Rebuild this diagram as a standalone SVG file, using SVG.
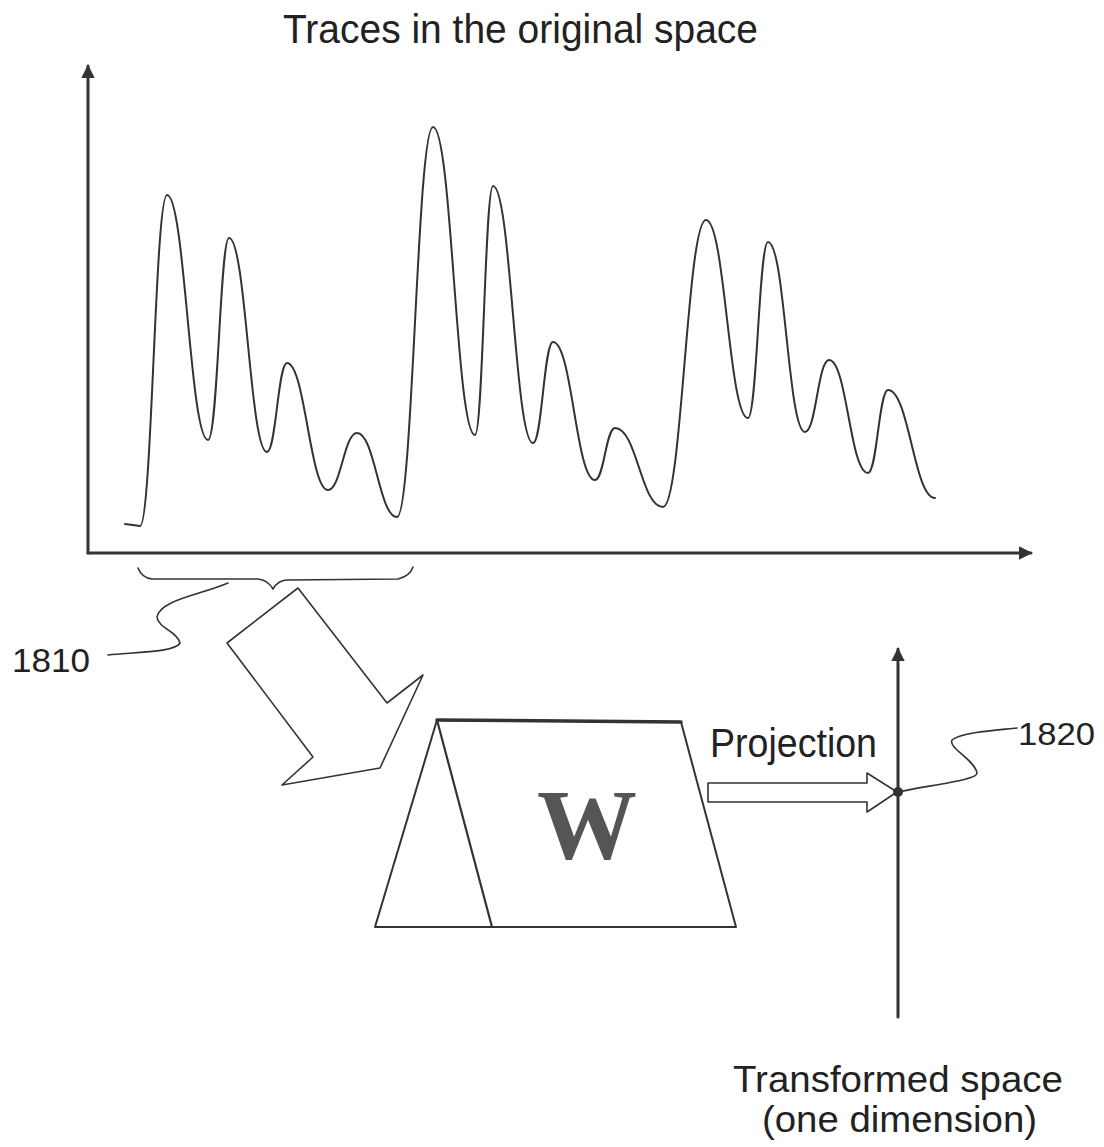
<svg xmlns="http://www.w3.org/2000/svg" width="1104" height="1147" viewBox="0 0 1104 1147">
<style>
.lbl{font-family:"Liberation Sans",Arial,sans-serif;fill:#222}
.ln{fill:none;stroke:#333;stroke-linejoin:round;stroke-linecap:round}
.axis{stroke-width:3}
.thin{stroke-width:1.6}
.curve{stroke-width:2}
</style>
<defs>
<marker id="ah" viewBox="0 0 10 10" refX="9" refY="5" markerWidth="4.5" markerHeight="4.5" orient="auto" markerUnits="strokeWidth">
<path d="M0,0 L10,5 L0,10 Z" fill="#333"/>
</marker>
</defs>
<rect width="1104" height="1147" fill="#fff"/>
<text class="lbl" x="283" y="43" font-size="40" textLength="475" lengthAdjust="spacingAndGlyphs">Traces in the original space</text>
<g id="plot">
<path class="ln axis" d="M88,553 L88,66" marker-end="url(#ah)"/>
<path class="ln axis" d="M88,553 L1031,553" marker-end="url(#ah)"/>
<path class="ln curve" d="M125,524 L140,526 C152,526 155,195 167,195 C185,195 190,440 208,440 C218,440 220,238 229,238 C246,238 250,452 267,452 C276,452 278,363 287,363 C305,363 310,490 328,490 C341,490 344,433 357,433 C375,433 379,517 397,517 C413,517 417,127 433,127 C452,127 456,435 475,435 C483,435 485,186 493,186 C511,186 515,443 533,443 C542,443 544,342 553,342 C572,342 576,480 595,480 C604,480 606,428 615,428 C637,428 641,507 663,507 C682,507 687,220 706,220 C725,220 729,418 748,418 C757,418 759,242 768,242 C785,242 788,432 805,432 C816,432 818,360 829,360 C847,360 850,473 868,473 C877,473 879,390 888,390 C909,390 914,498 935,498"/>
</g>
<g id="brace">
<path class="ln thin" d="M138,568 Q142,578 152,579 L258,579 Q268,580 273,589 Q278,580 288,580 L398,579 Q410,576 413,567"/>
</g>
<g id="label-1810">
<text class="lbl" x="12" y="672" font-size="34" textLength="78" lengthAdjust="spacingAndGlyphs">1810</text>
</g>
<g id="block-arrow">
<polygon class="ln thin" points="227,643 298,588 387,703 423,675 380,768 282,785 313,757"/>
</g>
<g id="W-node">
<polygon class="ln" stroke-width="2" points="437,720 681,722 736,927 375,927"/>
<path class="ln" stroke-width="3.5" d="M437,720 L681,722"/>
<path class="ln" stroke-width="2.2" d="M437,720 L492,927"/>
<text x="587" y="858" font-family="'Liberation Serif','Times New Roman',serif" font-weight="bold" font-size="100" text-anchor="middle" fill="#555">W</text>
</g>
<g id="projection">
<text class="lbl" x="710" y="757" font-size="40" textLength="167" lengthAdjust="spacingAndGlyphs">Projection</text>
<polygon class="ln thin" points="708,783 867,783 867,773 897,792 867,812 867,802 708,802"/>
</g>
<g id="transformed-axis">
<path class="ln axis" d="M898,1017 L898,649" marker-end="url(#ah)"/>
<circle cx="898" cy="792" r="5" fill="#333"/>
<text class="lbl" x="733" y="1092" font-size="36" textLength="330" lengthAdjust="spacingAndGlyphs">Transformed space</text>
<text class="lbl" x="762" y="1132" font-size="36" textLength="275" lengthAdjust="spacingAndGlyphs">(one dimension)</text>
</g>
<g id="label-1820">
<text class="lbl" x="1018" y="745" font-size="32" textLength="77" lengthAdjust="spacingAndGlyphs">1820</text>
</g>
<g id="connectors">
<path class="ln thin" d="M228,583 C200,595 160,600 157,617 C158,628 178,632 180,643 C175,652 140,652 108,655"/>
<path class="ln thin" d="M898,792 C930,785 978,780 977,773 C975,760 948,748 952,740 C962,732 1000,730 1017,728"/>
</g>
</svg>
